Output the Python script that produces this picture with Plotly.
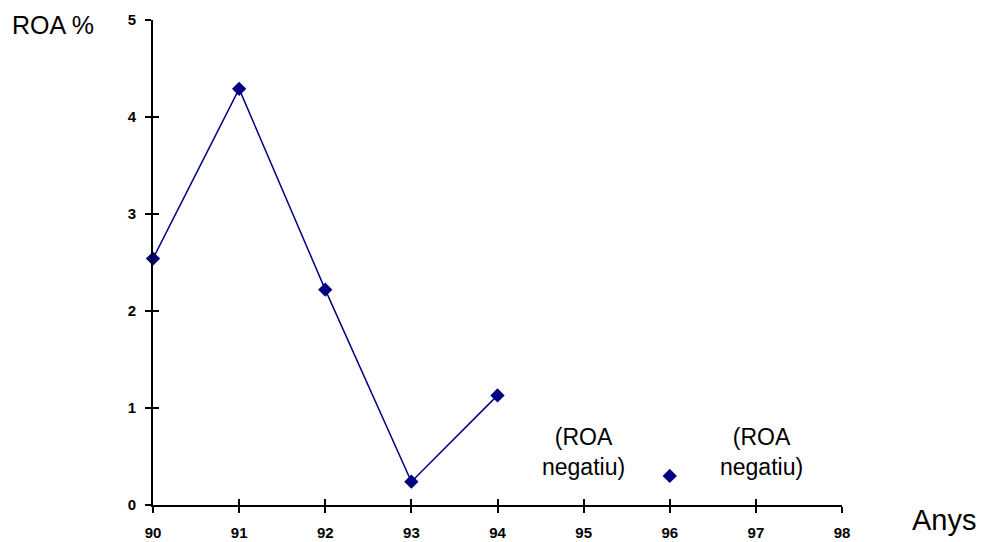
import plotly.graph_objects as go

years = [90, 91, 92, 93, 94, 95, 96, 97, 98]
roa = [2.54, 4.29, 2.22, 0.24, 1.13, None, 0.30, None, None]
y_ticks = [0, 1, 2, 3, 4, 5]
note_x = [95.0, 97.07]
note_y = [0.55, 0.55]
note_text = "(ROA<br>negatiu)"

NAVY = "#000080"
FONT = "Liberation Sans, Arial, sans-serif"

L, R, T, B, W, H = 153, 143, 20, 37, 985, 542

fig = go.Figure()
fig.add_trace(go.Scatter(
    x=years, y=roa, mode="lines+markers", connectgaps=False,
    line=dict(color=NAVY, width=1.5),
    marker=dict(symbol="diamond", size=11, color=NAVY),
    showlegend=False, cliponaxis=False,
))

axis_common = dict(showgrid=False, zeroline=False, linecolor="black", linewidth=2,
                   tickcolor="black", tickwidth=2, automargin=False)
tfont = dict(size=15, family=FONT, color="black")

fig.update_layout(
    width=W, height=H,
    margin=dict(l=L, r=R, t=T, b=B, autoexpand=False),
    paper_bgcolor="white", plot_bgcolor="white",
    font=dict(family=FONT, color="black"),
    xaxis=dict(range=[90, 98], tickvals=years, ticktext=[f"<b>{y}</b>" for y in years],
               ticks="outside", ticklen=6, showline=True, tickfont=tfont,
               ticklabelstandoff=7, **axis_common),
    yaxis=dict(range=[0, 5], tickvals=y_ticks, ticktext=[f"<b>{v}</b>" for v in y_ticks],
               ticks="outside", ticklen=6, showline=True, tickfont=tfont,
               ticklabelstandoff=6, **axis_common),
    xaxis2=dict(range=[90, 98], tickvals=years, ticks="inside", ticklen=6, showticklabels=False,
                overlaying="x", side="bottom", anchor="y", showline=False, **axis_common),
    yaxis2=dict(range=[0, 5], tickvals=y_ticks, ticks="inside", ticklen=6, showticklabels=False,
                overlaying="y", side="left", anchor="x", showline=False, **axis_common),
)

# invisible trace to activate the overlay axes (crossing tick marks)
fig.add_trace(go.Scatter(x=[90], y=[0], xaxis="x2", yaxis="y2", mode="markers",
                         marker=dict(opacity=0), showlegend=False, hoverinfo="skip"))

for nx, ny in zip(note_x, note_y):
    fig.add_annotation(x=nx, y=ny, xref="x", yref="y", text=note_text, showarrow=False,
                       font=dict(size=23, family=FONT, color="black"), align="center")

pw, ph = W - L - R, H - T - B
def px2paper(x, y):
    return (x - L) / pw, (H - B - y) / ph

ax, ay = px2paper(10, 25)
fig.add_annotation(x=ax, y=ay, xref="paper", yref="paper", text="ROA %", showarrow=False,
                   font=dict(size=25, family=FONT, color="black"), xanchor="left", yanchor="middle")
ax, ay = px2paper(910, 520)
fig.add_annotation(x=ax, y=ay, xref="paper", yref="paper", text="Anys", showarrow=False,
                   font=dict(size=29, family=FONT, color="black"), xanchor="left", yanchor="middle")

fig.write_html("out.html")
